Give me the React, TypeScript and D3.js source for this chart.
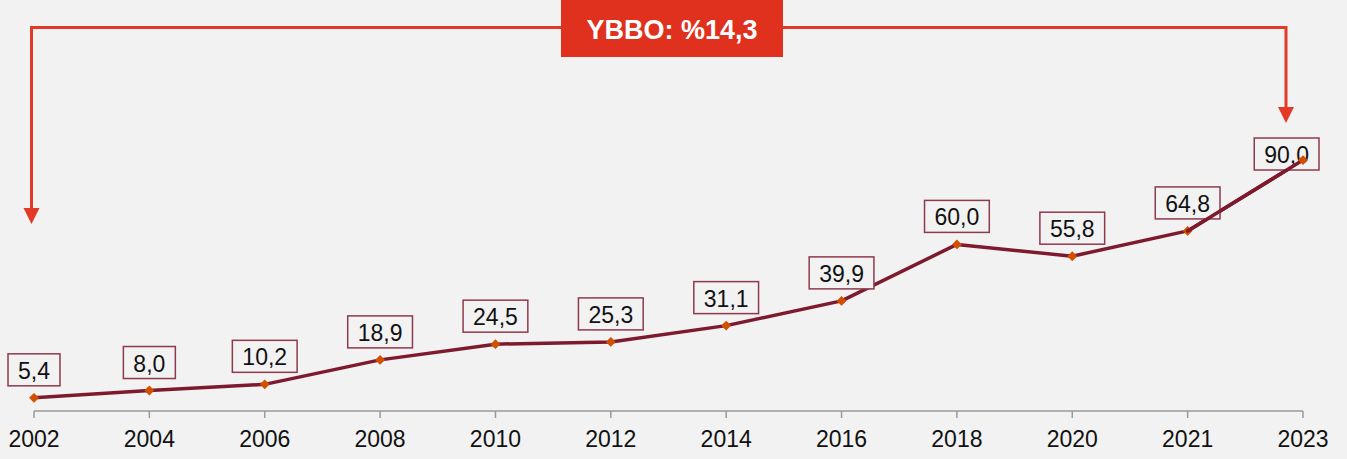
import React from "react";
import * as d3 from "d3";

const years = ["2002", "2004", "2006", "2008", "2010", "2012", "2014", "2016", "2018", "2020", "2021", "2023"];
const values = [5.4, 8.0, 10.2, 18.9, 24.5, 25.3, 31.1, 39.9, 60.0, 55.8, 64.8, 90.0];
const annotationText = "YBBO: %14,3";

const W = 1347;
const H = 459;

function fmt(v: number) {
  return v.toFixed(1).replace(".", ",");
}

export default function App() {
  const x = d3.scalePoint<string>().domain(years).range([34, 1303]);
  const y = d3.scaleLinear().domain([0, 100]).range([413, 132]);
  const line = d3
    .line<number>()
    .x((_, i) => x(years[i]) as number)
    .y((d) => y(d));

  const fontSize = 23;
  const charW = (s: string) =>
    s.split("").reduce((a, c) => a + (c === "," ? 0.278 : 0.556), 0) * fontSize;

  const axisY = 411;
  const first = x(years[0]) as number;
  const last = x(years[years.length - 1]) as number;

  // annotation geometry
  const annY = 27.5;
  const leftX = 31.5;
  const rightX = 1286;
  const leftTip = 224;
  const rightTip = 123;
  const red = "#e23a26";

  return (
    <div style={{ position: "fixed", left: 0, top: 0 }}>
      <svg width={W} height={H} style={{ display: "block", fontFamily: "'Liberation Sans', Arial, sans-serif" }}>
        <rect x={0} y={0} width={W} height={H} fill="#f2f2f2" />
        {/* axis */}
        <line x1={first} x2={last} y1={axisY} y2={axisY} stroke="#9a9a9a" strokeWidth={1.5} />
        {years.map((yr) => (
          <g key={yr}>
            <line x1={x(yr)} x2={x(yr)} y1={axisY} y2={axisY + 7} stroke="#9a9a9a" strokeWidth={1.5} />
            <text x={x(yr)} y={447} textAnchor="middle" fontSize={fontSize} fill="#111">
              {yr}
            </text>
          </g>
        ))}
        {/* line */}
        <path d={line(values) || ""} fill="none" stroke="#7d1a2e" strokeWidth={3.5} strokeLinejoin="round" />
        {values.map((v, i) => {
          const cx = x(years[i]) as number;
          const cy = y(v);
          return (
            <rect
              key={"m" + i}
              x={cx - 3.5}
              y={cy - 3.5}
              width={7}
              height={7}
              fill="#d24f00"
              transform={`rotate(45 ${cx} ${cy})`}
            />
          );
        })}
        {/* labels */}
        {values.map((v, i) => {
          const s = fmt(v);
          const tw = charW(s);
          const bw = tw + 20;
          const bh = 32;
          let cx = x(years[i]) as number;
          let bottom = y(v) - 12;
          if (cx + bw / 2 > 1319) cx = 1319 - bw / 2;
          if (bottom - bh < 135) bottom = 170;
          return (
            <g key={"l" + i}>
              <rect x={cx - bw / 2} y={bottom - bh} width={bw} height={bh} fill="#f2f2f2" stroke="#8e3a4c" strokeWidth={1.5} />
              <text x={cx} y={bottom - 7} textAnchor="middle" fontSize={fontSize} fill="#111">
                {s}
              </text>
            </g>
          );
        })}
        {/* redraw last marker over its label */}
        {(() => {
          const i = values.length - 1;
          const cx = x(years[i]) as number;
          const cy = y(values[i]);
          return (
            <g>
              <line x1={x(years[i - 1])} y1={y(values[i - 1])} x2={cx} y2={cy} stroke="#7d1a2e" strokeWidth={3.5} strokeLinecap="round" />
              <rect x={cx - 3.5} y={cy - 3.5} width={7} height={7} fill="#d24f00" transform={`rotate(45 ${cx} ${cy})`} />
            </g>
          );
        })()}
        {/* annotation */}
        <path
          d={`M${leftX},${leftTip - 14} V${annY} H${rightX} V${rightTip - 14}`}
          fill="none"
          stroke={red}
          strokeWidth={3}
        />
        <path d={`M${leftX - 8},${leftTip - 16} L${leftX + 8},${leftTip - 16} L${leftX},${leftTip} Z`} fill={red} />
        <path d={`M${rightX - 8},${rightTip - 16} L${rightX + 8},${rightTip - 16} L${rightX},${rightTip} Z`} fill={red} />
        <rect x={561} y={0} width={222} height={57} fill="#e0301e" />
        <text x={672} y={39} textAnchor="middle" fontSize={27} fontWeight="bold" fill="#fff">
          {annotationText}
        </text>
      </svg>
    </div>
  );
}
